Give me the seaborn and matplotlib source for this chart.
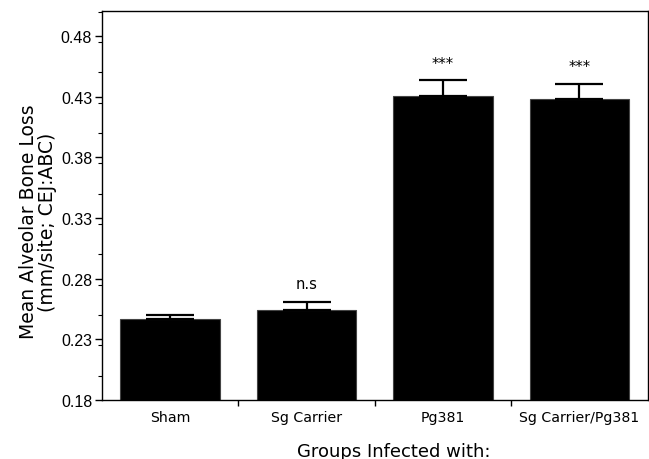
import matplotlib
matplotlib.use("Agg")
import matplotlib.pyplot as plt
import seaborn as sns
import numpy as np
from matplotlib.ticker import FixedLocator, MultipleLocator

groups = ["Sham", "Sg Carrier", "Pg381", "Sg Carrier/Pg381"]
means = [0.2465, 0.2545, 0.4307, 0.4282]
errs = [0.0035, 0.0066, 0.0126, 0.0121]
marks = ["", "n.s", "***", "***"]
yticks = [0.18, 0.23, 0.28, 0.33, 0.38, 0.43, 0.48]

sns.set_theme(style="ticks")
plt.rcParams["font.family"] = ["DejaVu Sans"]
plt.rcParams["text.color"] = "black"
plt.rcParams["axes.labelcolor"] = "black"
plt.rcParams["xtick.color"] = "black"
plt.rcParams["ytick.color"] = "black"

fig = plt.figure(figsize=(6.49, 4.6), dpi=100)
ax = fig.add_axes([0.157, 0.128, 0.841, 0.846])

sns.barplot(x=groups, y=means, color="black", width=0.73, errorbar=None,
            edgecolor="#444444", linewidth=0.8, saturation=1, ax=ax)
xs = np.arange(len(groups))
ax.errorbar(xs, means, yerr=[np.zeros(len(errs)), errs], fmt="none",
            ecolor="black", elinewidth=1.6, capsize=17.5, capthick=1.6)

for x, m, e, t in zip(xs, means, errs, marks):
    if t:
        ax.annotate(t, (x, m + e), xytext=(0, 8 if t == "n.s" else 7),
                    textcoords="offset points", ha="center", va="bottom",
                    fontsize=10.5, color="black")

ax.set_ylim(0.18, 0.5005)
ax.set_xlim(-0.5, 3.5)
ax.set_yticks(yticks)
ax.set_yticklabels([f"{v:.2f}" for v in yticks], fontsize=11.5,
                   family=["Liberation Sans", "DejaVu Sans"])
ax.yaxis.set_minor_locator(MultipleLocator(0.025))
ax.tick_params(axis="y", which="major", length=5, width=1, direction="out", pad=2)
ax.tick_params(axis="y", which="minor", length=3, width=0.8, direction="out")
ax.set_xticks(xs)
ax.set_xticklabels(groups, fontsize=10.2)
ax.tick_params(axis="x", which="major", length=0, pad=7)
ax.xaxis.set_minor_locator(FixedLocator([0.5, 1.5, 2.5]))
ax.tick_params(axis="x", which="minor", length=4, width=1, direction="out")

for s in ax.spines.values():
    s.set_visible(True)
    s.set_color("black")
    s.set_linewidth(1)

ax.set_ylabel("Mean Alveolar Bone Loss\n(mm/site; CEJ:ABC)", fontsize=13.5,
              labelpad=3, linespacing=0.95)
ax.yaxis.label.set_y(0.46)
ax.set_xlabel("Groups Infected with:", fontsize=13, labelpad=13)
ax.xaxis.label.set_x(0.535)

fig.savefig("out.png", dpi=100)
